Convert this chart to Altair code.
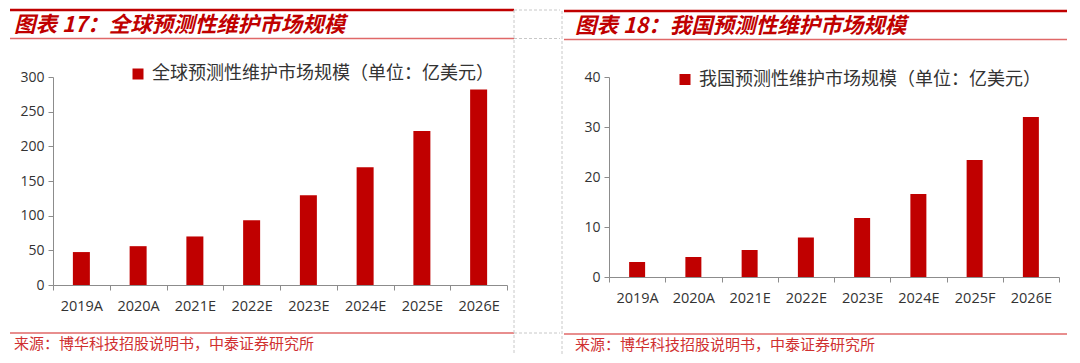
import altair as alt
import pandas as pd

# ---------------- data ----------------
years_global = ["2019A", "2020A", "2021E", "2022E", "2023E", "2024E", "2025E", "2026E"]
global_values = [47.5, 56, 70, 93.5, 129.5, 170, 222, 282]

years_china = ["2019A", "2020A", "2021E", "2022E", "2023E", "2024E", "2025F", "2026E"]
china_values = [3.0, 4.0, 5.4, 7.9, 11.8, 16.6, 23.4, 32.0]

y_ticks_global = [0, 50, 100, 150, 200, 250, 300]
y_ticks_china = [0, 10, 20, 30, 40]

title_global = "图表 17：全球预测性维护市场规模"
title_china = "图表 18：我国预测性维护市场规模"
legend_global = "全球预测性维护市场规模（单位：亿美元）"
legend_china = "我国预测性维护市场规模（单位：亿美元）"
source_text = "来源：博华科技招股说明书，中泰证券研究所"

RED = "#C00000"
LIGHT = "#E06868"
SRC = "#D03030"
DASH = "#C8C8C8"
AXIS = "#8C8C8C"
LABEL = "#333333"
CJK = "Noto Sans CJK SC"
NUM = "Open Sans"

anchor = pd.DataFrame({"a": [0]})


def hrule(x1, x2, y, color, w, dash=None):
    kw = dict(color=color, strokeWidth=w)
    if dash:
        kw["strokeDash"] = dash
    return alt.Chart(anchor).mark_rule(**kw).encode(
        x=alt.value(x1), x2=alt.value(x2), y=alt.value(y))


def vrule(x, y1, y2, color, w, dash=None):
    kw = dict(color=color, strokeWidth=w)
    if dash:
        kw["strokeDash"] = dash
    return alt.Chart(anchor).mark_rule(**kw).encode(
        x=alt.value(x), y=alt.value(y1), y2=alt.value(y2))


def label(txt, x, y, size, color, bold=False, italic=False, font=CJK):
    kw = dict(text=txt, align="left", baseline="middle", font=font,
              fontSize=size, color=color)
    if bold:
        kw["fontWeight"] = "bold"
    if italic:
        kw["fontStyle"] = "italic"
    return alt.Chart(anchor).mark_text(**kw).encode(x=alt.value(x), y=alt.value(y))


def bars(cats, vals, yticks, ymax, bar_size, legend_label, lx, ly):
    df = pd.DataFrame({"year": cats, "value": vals, "series": legend_label})
    return alt.Chart(df).mark_bar(size=bar_size).encode(
        x=alt.X("year:N", sort=cats,
                scale=alt.Scale(paddingInner=0, paddingOuter=0),
                axis=alt.Axis(title=None, labelAngle=0, tickBand="extent",
                              labelPadding=9.5, labelFont=NUM, labelFontSize=14.5,
                              labelColor=LABEL, domainColor=AXIS, tickColor=AXIS,
                              tickSize=5, grid=False)),
        y=alt.Y("value:Q", scale=alt.Scale(domain=[0, ymax], nice=False),
                axis=alt.Axis(title=None, values=yticks, labelPadding=4,
                              labelFont=NUM, labelFontSize=14, labelColor=LABEL,
                              domainColor=AXIS, tickColor=AXIS, tickSize=5,
                              grid=False)),
        color=alt.Color("series:N",
                        scale=alt.Scale(domain=[legend_label], range=[RED]),
                        legend=alt.Legend(title=None, orient="none", legendX=lx,
                                          legendY=ly, symbolType="square",
                                          symbolSize=121, symbolStrokeWidth=0,
                                          labelFont=CJK, labelFontSize=18,
                                          labelColor="#333333", labelLimit=1000,
                                          labelOffset=5, padding=0)),
    )


# left panel: plot origin at page (53, 77), 454 x 208
left = alt.layer(
    bars(years_global, global_values, y_ticks_global, 300, 17, legend_global, 76, -12),
    hrule(-43, 461, -67, RED, 2.5),
    label(title_global, -39, -51, 21.5, RED, bold=True, italic=True),
    hrule(-43, 461, -38.5, LIGHT, 1.5),
    hrule(-43, 461, 256, LIGHT, 1.5),
    label(source_text, -39, 267, 15, SRC),
    vrule(461, -67, 278, DASH, 1, [3, 2]),
    hrule(461, 507, -67, DASH, 1, [3, 2]),
    hrule(461, 507, -38.5, DASH, 1, [3, 2]),
    hrule(461, 507, 256, DASH, 1, [3, 2]),
).properties(width=454, height=208)

# right panel: plot origin at page (609, 76), 450 x 200
right = alt.layer(
    bars(years_china, china_values, y_ticks_china, 40, 16, legend_china, 67, -6.5),
    hrule(-45, 458, -66, RED, 2.5),
    label(title_china, -34, -50, 21.5, RED, bold=True, italic=True),
    hrule(-45, 458, -37.5, LIGHT, 1.5),
    hrule(-45, 458, 257, LIGHT, 1.5),
    label(source_text, -34, 268, 15, SRC),
    vrule(-47, -66, 279, DASH, 1, [3, 2]),
).properties(width=450, height=200)

chart = alt.hconcat(left, right, spacing=0).resolve_scale(
    x="independent", y="independent", color="independent"
).resolve_legend(color="independent").properties(
    padding=0
).configure_view(stroke=None)

chart.save("out.html", embed_options={"renderer": "svg", "actions": False})
